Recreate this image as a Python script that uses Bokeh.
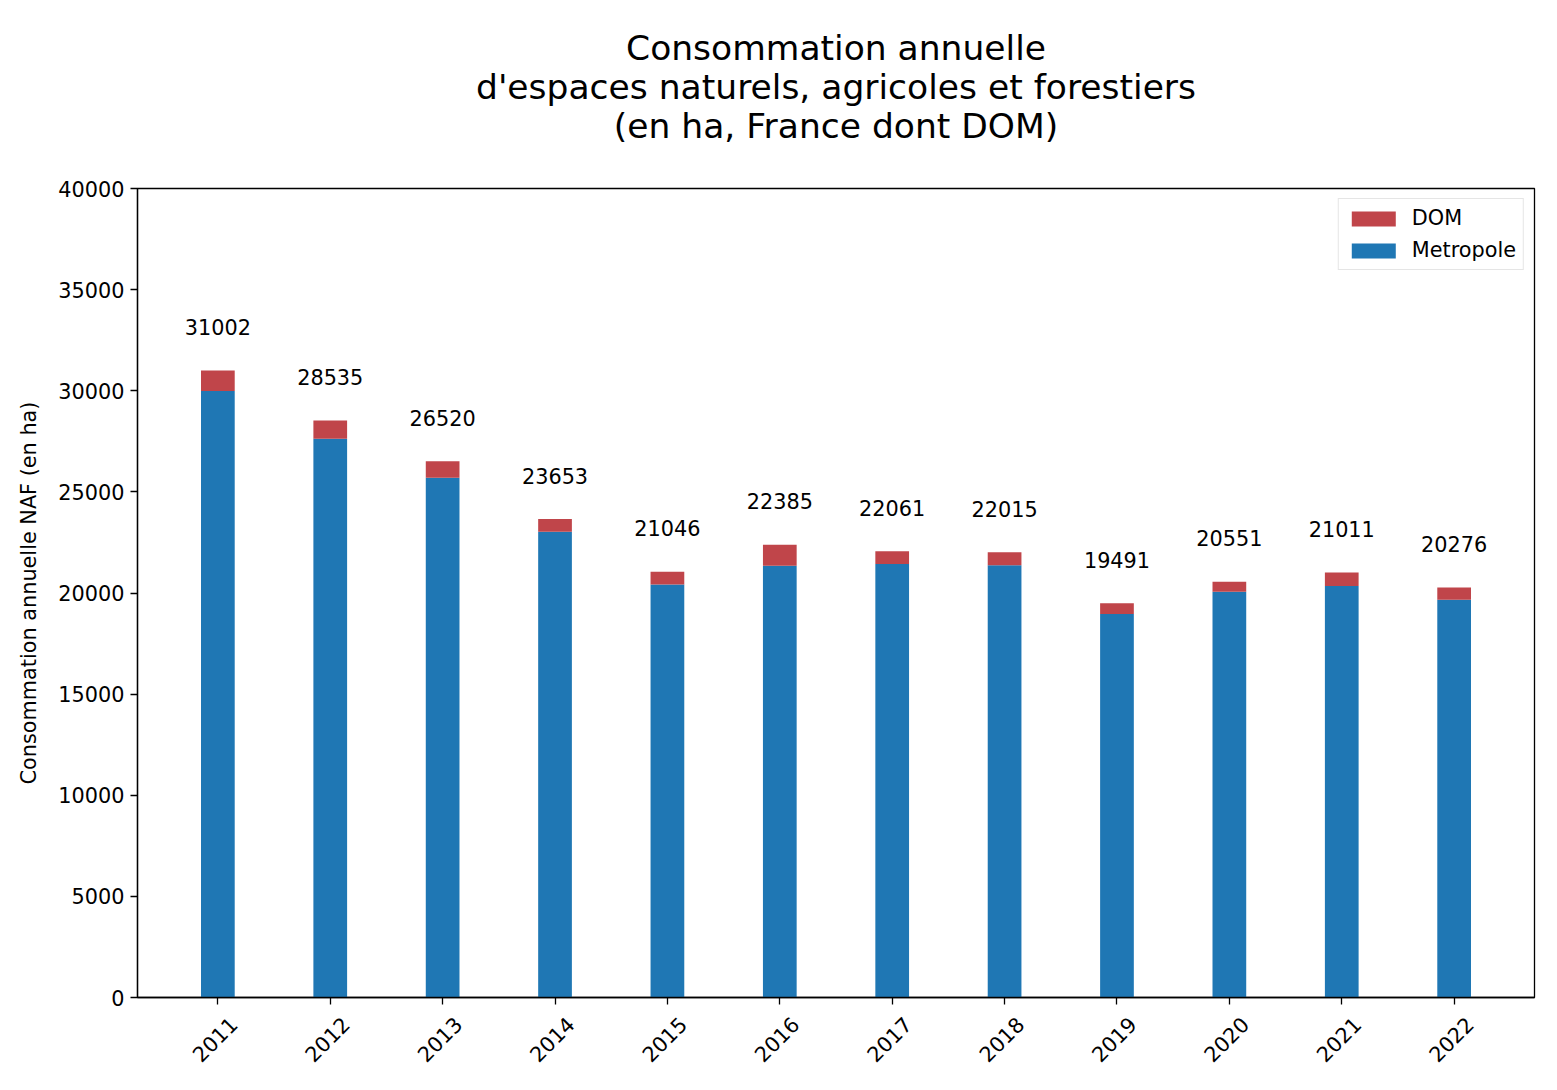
from bokeh.plotting import figure
from bokeh.layouts import column
from bokeh.models import (ColumnDataSource, Range1d, FixedTicker, Legend, LegendItem,
                          LinearAxis)
from bokeh.core.properties import value
from bokeh.embed import file_html
from bokeh.resources import INLINE
import math

years = [2011, 2012, 2013, 2014, 2015, 2016, 2017, 2018, 2019, 2020, 2021, 2022]
year_labels = ["2011", "2012", "2013", "2014", "2015", "2016", "2017", "2018", "2019", "2020", "2021", "2022"]
totals = [31002, 28535, 26520, 23653, 21046, 22385, 22061, 22015, 19491, 20551, 21011, 20276]
dom = [1020, 905, 825, 626, 626, 1038, 626, 643, 527, 494, 659, 610]
metropole = [t - d for t, d in zip(totals, dom)]
y_ticks = [0, 5000, 10000, 15000, 20000, 25000, 30000, 35000, 40000]

title_lines = ["Consommation annuelle",
               "d'espaces naturels, agricoles et forestiers",
               "(en ha, France dont DOM)"]

BLUE = "#1f77b4"
RED = "#c0454a"
FONT = "DejaVu Sans"
FS = "20.8px"

W = 1541
TITLE_H = 150
LEFT, RIGHT = 137, 7

X0, X1 = years[0] - 0.715, years[-1] + 0.715
SHIFT = 0.138  # label anchor shift (matplotlib centres rotated labels on the tick)

# ---- title block (a separate, axis-less figure; its frame is aligned with the chart's) ----
t = figure(width=W, height=TITLE_H, output_backend="svg", toolbar_location=None,
           x_range=Range1d(X0, X1), y_range=Range1d(TITLE_H, 0),
           x_axis_type=None, y_axis_type=None,
           min_border_left=LEFT, min_border_right=RIGHT, min_border_top=0, min_border_bottom=0)
t.outline_line_color = None
t.background_fill_color = "white"
t.border_fill_color = "white"
t.title.visible = False
title_src = ColumnDataSource(dict(x=[(X0 + X1) / 2] * len(title_lines),
                                  y=[47 + 39 * i for i in range(len(title_lines))],
                                  text=title_lines))
t.text(x="x", y="y", text="text", source=title_src, text_align="center",
       text_baseline="middle", text_font=value(FONT), text_font_size="34.5px",
       text_color="black")

# ---- main chart ----
src = ColumnDataSource(dict(year=years, metropole=metropole, dom=dom, total=totals,
                            label_y=[v + 2000 for v in totals],
                            label=[str(v) for v in totals]))

p = figure(width=W, height=1074 - TITLE_H, output_backend="svg", toolbar_location=None,
           x_range=Range1d(X0, X1), y_range=Range1d(0, 40000), x_axis_type=None,
           min_border_left=LEFT, min_border_right=RIGHT, min_border_top=188 - TITLE_H,
           min_border_bottom=77)
p.extra_x_ranges = {"lab": Range1d(X0 - SHIFT, X1 - SHIFT)}
p.title.visible = False

r = p.vbar_stack(["metropole", "dom"], x="year", width=0.3, color=[BLUE, RED],
                 line_color=None, source=src)

p.text(x="year", y="label_y", text="label", source=src, text_align="center",
       text_baseline="middle", text_font_size=FS, text_font=value(FONT),
       text_color="black", y_offset=-3)

legend = Legend(items=[LegendItem(label="DOM", renderers=[r[1]]),
                       LegendItem(label="Metropole", renderers=[r[0]])],
                location="top_right", label_text_font=FONT, label_text_font_size=FS,
                label_text_color="black",
                glyph_width=55, glyph_height=19, label_height=20, spacing=8,
                padding=7, label_standoff=11, border_line_color="#cccccc",
                border_line_width=1, margin=10, background_fill_alpha=0.8)
p.add_layout(legend)

p.xgrid.visible = False
p.ygrid.visible = False
p.outline_line_color = "black"
p.outline_line_width = 1.3
p.background_fill_color = "white"

xaxis = LinearAxis(x_range_name="lab",
                   ticker=FixedTicker(ticks=years, minor_ticks=[y - SHIFT for y in years]),
                   major_label_overrides={y: l for y, l in zip(years, year_labels)},
                   major_label_orientation=math.pi / 4,
                   major_label_text_font=FONT, major_label_text_font_size=FS,
                   major_label_text_color="black",
                   major_tick_line_color=None, major_tick_out=7, major_tick_in=0,
                   major_label_standoff=16,
                   minor_tick_line_color="black", minor_tick_out=7, minor_tick_in=0,
                   minor_tick_line_width=1.3,
                   axis_line_color="black", axis_line_width=1.3)
p.add_layout(xaxis, "below")

yax = p.yaxis[0]
yax.ticker = FixedTicker(ticks=y_ticks)
yax.major_label_text_font = FONT
yax.major_label_text_font_size = FS
yax.major_label_text_color = "black"
yax.major_tick_in = 0
yax.major_tick_out = 7
yax.major_tick_line_width = 1.3
yax.minor_tick_line_color = None
yax.axis_line_color = "black"
yax.axis_line_width = 1.3
yax.major_label_standoff = 6
yax.axis_label = "Consommation annuelle NAF (en ha)"
yax.axis_label_text_font = FONT
yax.axis_label_text_font_size = FS
yax.axis_label_text_font_style = "normal"
yax.axis_label_text_color = "black"
yax.axis_label_standoff = 14

layout = column(t, p, spacing=0)
open("out.html", "w").write(file_html(layout, INLINE))
